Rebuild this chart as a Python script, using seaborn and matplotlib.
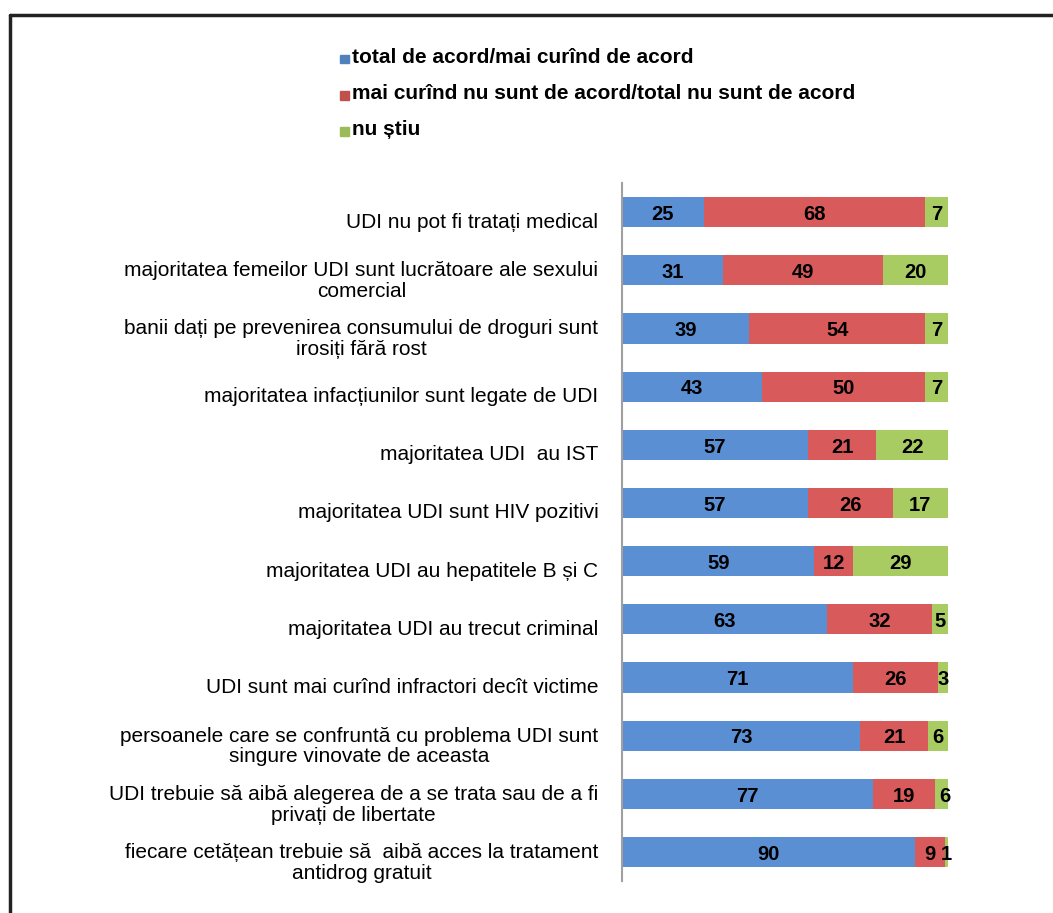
import numpy as np
import pandas as pd
import matplotlib.pyplot as plt
import matplotlib.transforms as mtransforms
import seaborn as sns

statements = [
    "UDI nu pot fi tratați medical",
    "majoritatea femeilor UDI sunt lucrătoare ale sexului\ncomercial",
    "banii dați pe prevenirea consumului de droguri sunt\nirosiți fără rost",
    "majoritatea infacțiunilor sunt legate de UDI",
    "majoritatea UDI  au IST",
    "majoritatea UDI sunt HIV pozitivi",
    "majoritatea UDI au hepatitele B și C",
    "majoritatea UDI au trecut criminal",
    "UDI sunt mai curînd infractori decît victime",
    "persoanele care se confruntă cu problema UDI sunt\nsingure vinovate de aceasta",
    "UDI trebuie să aibă alegerea de a se trata sau de a fi\nprivați de libertate",
    "fiecare cetățean trebuie să  aibă acces la tratament\nantidrog gratuit",
]
agree = [25, 31, 39, 43, 57, 57, 59, 63, 71, 73, 77, 90]
disagree = [68, 49, 54, 50, 21, 26, 12, 32, 26, 21, 19, 9]
dont_know = [7, 20, 7, 7, 22, 17, 29, 5, 3, 6, 6, 1]

series_names = [
    "total de acord/mai curînd de acord",
    "mai curînd nu sunt de acord/total nu sunt de acord",
    "nu știu",
]
legend_colors = ["#4F81BD", "#C0504D", "#9BBB59"]
bar_colors = ["#5A8FD4", "#D95A5A", "#A8CB62"]

sns.set_style("white")
plt.rcParams['font.family'] = ['Liberation Sans', 'DejaVu Sans']
plt.rcParams['text.color'] = 'black'
plt.rcParams['ytick.color'] = 'black'

df = pd.DataFrame({"statement": statements, "agree": agree,
                   "disagree": disagree, "dont_know": dont_know})
df["c1"] = df["agree"]
df["c2"] = df["agree"] + df["disagree"]
df["c3"] = df["c2"] + df["dont_know"]

fig = plt.figure(figsize=(10.53, 9.13), dpi=100)
ax = fig.add_axes([0.5907, 0.035, 0.3096, 0.7645])

# stacked bars: draw cumulative totals back to front
for col, color in zip(["c3", "c2", "c1"], bar_colors[::-1]):
    sns.barplot(data=df, x=col, y="statement", orient="h", color=color,
                width=0.52, saturation=1, ax=ax, edgecolor="none")

for i, row in df.iterrows():
    starts = [0, row["c1"], row["c2"]]
    for s, v in zip(starts, [row["agree"], row["disagree"], row["dont_know"]]):
        ax.text(s + v / 2, i + 0.04, str(v), ha="center", va="center",
                fontsize=14.5, fontweight="bold", color="black")

ax.set_xlim(0, 100)
ax.set_ylim(11.5, -0.5)
ax.set_xlabel("")
ax.set_ylabel("")
ax.set_xticks([])
ax.set_yticks(range(len(statements)))
ax.set_yticklabels(statements, fontsize=15, multialignment="center",
                   linespacing=1.12, color="black")
ax.tick_params(axis="y", length=0, pad=17)
shift = mtransforms.ScaledTranslation(0, -0.08, fig.dpi_scale_trans)
for lab in ax.get_yticklabels():
    lab.set_transform(lab.get_transform() + shift)
for side in ["top", "right", "bottom"]:
    ax.spines[side].set_visible(False)
ax.spines["left"].set_color("#A0A0A0")
ax.spines["left"].set_linewidth(1.5)

# legend
for k, (name, c) in enumerate(zip(series_names, legend_colors)):
    y = 0.937 - k * 0.0395
    fig.patches.append(plt.Rectangle((0.3225, y - 0.0065), 0.0085, 0.0098,
                                     transform=fig.transFigure, color=c))
    fig.text(0.334, y, name, fontsize=15, fontweight="bold", va="center",
             color="black")

# outer frame
fig.add_artist(plt.Line2D([0.0095, 1.0], [0.9835, 0.9835], color="#222222", lw=2.5))
fig.add_artist(plt.Line2D([0.0095, 0.0095], [0.0, 0.9835], color="#222222", lw=2.5))

fig.savefig("out.png", dpi=100)
